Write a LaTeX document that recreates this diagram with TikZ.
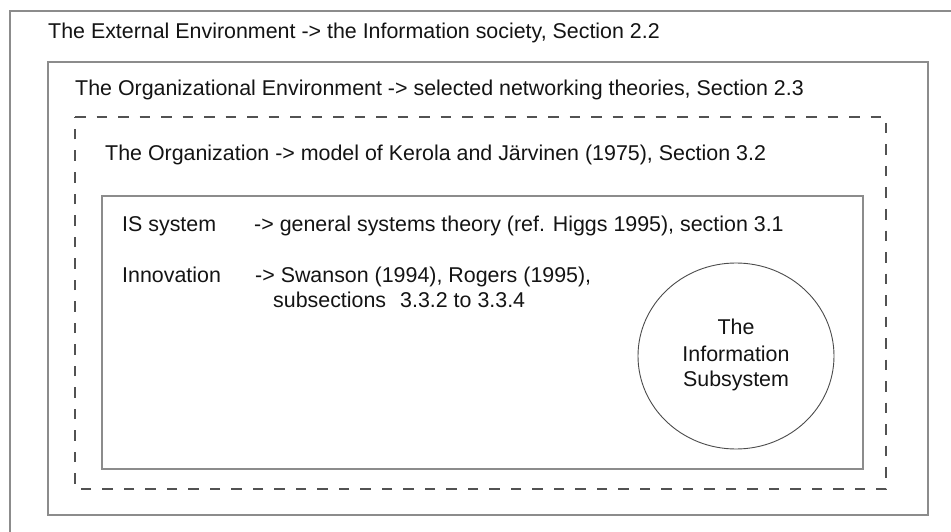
\documentclass[tikz,border=0pt]{standalone}
\usepackage{fontspec}
\setmainfont{Liberation Sans}
\begin{document}
\begin{tikzpicture}[x=1pt, y=-1pt,
  frame/.style={draw=black!45, line width=1.2pt},
  dashframe/.style={draw=black!68, line width=2.4pt, dash pattern=on 10.5pt off 11pt},
  lbl/.style={anchor=base west, inner sep=0pt, font=\fontsize{21.4}{25}\selectfont, text=black!92},
  bubble/.style={draw=black!70, line width=0.9pt}]
  \useasboundingbox (0,0) rectangle (951,532);
  \fill[white] (0,0) rectangle (951,532);
  % outer frame runs past the right and lower edges
  \begin{scope}
    \clip (0,0) rectangle (951,532);
    \draw[frame] (10,11) rectangle (980,560);
  \end{scope}
  % nested frames
  \draw[frame] (48,62) rectangle (928,515);
  \draw[dashframe] (75,117) -- (886,117) -- (886,489) -- (75,489) -- cycle;
  \draw[frame] (102,196) rectangle (863,469);

  \node[lbl] (ext) at (48,39) {The External Environment -> the Information society, Section 2.2};
  \node[lbl] (orgenv) at (75,96) {The Organizational Environment -> selected networking theories, Section 2.3};
  \node[lbl] (org) at (105,161) {The Organization -> model of Kerola and Järvinen (1975), Section 3.2};
  \node[lbl] (is) at (122,231) {IS system};
  \node[lbl] (isref) at (254,231) {-> general systems theory (ref. Higgs 1995), section 3.1};
  \node[lbl] (inno) at (122,282) {Innovation};
  \node[lbl] (innoref) at (255,282) {-> Swanson (1994), Rogers (1995),};
  \node[lbl] (innosub) at (273,307) {subsections\hspace{14pt}3.3.2 to 3.3.4};

  \draw[bubble] (736,356) ellipse [x radius=98, y radius=93];
  \node[lbl, anchor=base] (the) at (736,334) {The};
  \node[lbl, anchor=base] (info) at (736,361) {Information};
  \node[lbl, anchor=base] (subsys) at (736,386) {Subsystem};
\end{tikzpicture}
\end{document}
